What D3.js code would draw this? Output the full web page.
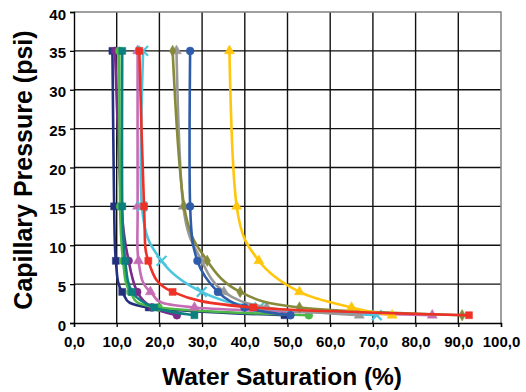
<!DOCTYPE html>
<html><head><meta charset="utf-8">
<script src="https://cdn.jsdelivr.net/npm/d3@7"></script>
<style>html,body{margin:0;padding:0;background:#fff;}svg{display:block;font-family:"Liberation Sans",Arial,sans-serif;}</style>
</head><body>
<svg id="chart" width="526" height="392"></svg>
<script>
// Capillary pressure levels (psi) shared by all samples
const pressure = [35, 15, 8, 4, 2, 1];
// Water saturation (%) per sample at each pressure level
const swNavy   = [9.0, 9.4, 9.8, 11.3, 17.5, 49.3];
const swPurple = [9.6, 11.1, 12.8, 14.8, 18.3, 24.1];
const swGreen  = [10.6, 10.8, 11.5, 13.2, 19.8, 55.0];
const swTeal   = [11.3, 11.3, 12.0, 13.6, 18.8, 28.2];
const swPink   = [14.9, 14.9, 15.1, 17.9, 28.2, 83.9];
const swCyan   = [16.2, 15.9, 20.5, 29.9, 43.4, 70.9];
const swGray   = [24.0, 25.6, 29.9, 35.1, 45.1, 66.8];
const swOlive  = [23.1, 25.8, 31.2, 38.9, 52.8, 90.9];
const swBlue   = [27.2, 27.2, 28.9, 33.7, 39.9, 50.7];
const swGold   = [36.4, 38.1, 43.3, 52.8, 65.0, 74.5];
const swRed    = [15.3, 16.4, 17.4, 23.1, 42.0, 92.5];

const xTicks = [0,10,20,30,40,50,60,70,80,90,100];
const yTicks = [0,5,10,15,20,25,30,35,40];

const series = [
  {sw: swNavy,   color: "#22307e", marker: "square"},
  {sw: swPurple, color: "#7b2b8c", marker: "circle"},
  {sw: swGreen,  color: "#4cb848", marker: "circle"},
  {sw: swTeal,   color: "#0c7f7f", marker: "square"},
  {sw: swPink,   color: "#c66cb4", marker: "triangle"},
  {sw: swCyan,   color: "#4ec5de", marker: "x"},
  {sw: swGray,   color: "#999999", marker: "triangle"},
  {sw: swOlive,  color: "#878a3a", marker: "diamond"},
  {sw: swBlue,   color: "#2e5ca9", marker: "circle"},
  {sw: swGold,   color: "#ffc60c", marker: "triangle"},
  {sw: swRed,    color: "#ee3126", marker: "square"}
];

const svg = d3.select("#chart");
const L = 74, R = 501, T = 12, B = 323;
const x = d3.scaleLinear().domain([0,100]).range([L,R]);
const y = d3.scaleLinear().domain([0,40]).range([B,T]);

// gridlines
svg.append("g").selectAll("line").data(xTicks.slice(1,-1)).join("line")
  .attr("x1", d=>x(d)).attr("x2", d=>x(d)).attr("y1", T).attr("y2", B)
  .attr("stroke", "#111").attr("stroke-width", 1.4);
svg.append("g").selectAll("line").data(yTicks.slice(1,-1)).join("line")
  .attr("x1", L).attr("x2", R).attr("y1", d=>y(d)).attr("y2", d=>y(d))
  .attr("stroke", "#111").attr("stroke-width", 1.4);
// top/right border
svg.append("path").attr("d", `M${L},${T}H${R}V${B}`).attr("fill","none")
  .attr("stroke","#808080").attr("stroke-width",1.5);

// axes
const xAxis = svg.append("g").attr("transform", `translate(0,${B})`)
  .call(d3.axisBottom(x).tickValues(xTicks).tickSize(4).tickPadding(9)
    .tickFormat(d => d3.format(".1f")(d).replace(".", ",")));
const yAxis = svg.append("g").attr("transform", `translate(${L},0)`)
  .call(d3.axisLeft(y).tickValues(yTicks).tickSize(4).tickPadding(4));
[xAxis, yAxis].forEach(g => {
  g.select(".domain").attr("stroke", "#000").attr("stroke-width", 1.4);
  g.selectAll(".tick line").attr("stroke", "#000").attr("stroke-width", 1.3);
  g.selectAll("text").attr("font-size", 15).attr("font-weight", "bold")
    .attr("fill", "#000").attr("font-family", '"Liberation Sans",Arial,sans-serif');
});
yAxis.selectAll("text").attr("dy", "0.47em");

// lines
const line = d3.line().x(d=>x(d[0])).y(d=>y(d[1])).curve(d3.curveCardinal.tension(0));
const sym = {
  square: d3.symbol(d3.symbolSquare, 49),
  circle: d3.symbol(d3.symbolCircle, 48),
  triangle: d3.symbol(d3.symbolTriangle, 44),
  diamond: d3.symbol(d3.symbolDiamond, 38),
  x: d3.symbol(d3.symbolX, 64)
};
series.forEach(s => {
  const pts = s.sw.map((v,i) => [v, pressure[i]]);
  const g = svg.append("g");
  g.append("path").attr("d", line(pts)).attr("fill","none")
    .attr("stroke", s.color).attr("stroke-width", 2.6).attr("stroke-linejoin","round");
  g.selectAll("path.m").data(pts).join("path").attr("class","m")
    .attr("transform", d=>`translate(${x(d[0])},${y(d[1])})`)
    .attr("d", sym[s.marker]())
    .attr("fill", s.marker === "x" ? "none" : s.color)
    .attr("stroke", s.color).attr("stroke-width", s.marker === "x" ? 2.2 : 0.5);
});

// titles
svg.append("text").attr("x", 282).attr("y", 385).attr("text-anchor","middle")
  .attr("font-size", 24.5).attr("font-weight","bold").text("Water Saturation (%)");
svg.append("text").attr("transform","translate(32,170) rotate(-90)").attr("text-anchor","middle")
  .attr("font-size", 25).attr("font-weight","bold").text("Capillary Pressure (psi)");
</script>
</body></html>
